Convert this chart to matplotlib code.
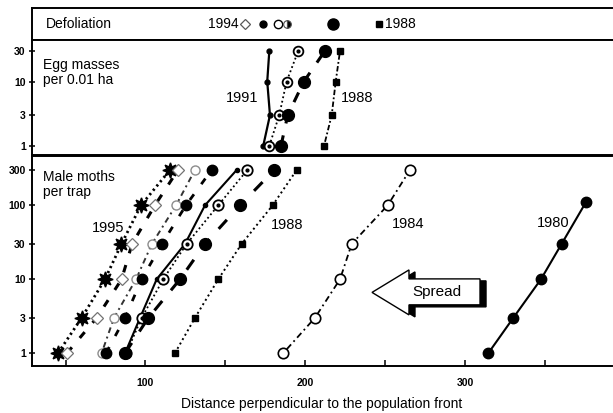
import matplotlib
matplotlib.use("Agg")
import matplotlib.pyplot as plt
from matplotlib import transforms
from matplotlib.patches import Polygon

plt.rcParams['font.family'] = ['Liberation Sans', 'DejaVu Sans']

# ---------------- data ----------------
moth_levels = [1, 3, 10, 30, 100, 300]
moth_1995 = [45.3, 60.1, 74.7, 85.0, 97.2, 115.3]
moth_1994 = [50.9, 69.5, 85.1, 91.6, 105.9, 120.3]
moth_1993 = [72.6, 80.3, 94.1, 104.0, 119.1, 130.9]
moth_1992 = [75.3, 87.2, 97.6, 110.3, 125.3, 141.3]
moth_1991 = [87.2, 96.6, 107.0, 124.7, 137.2, 157.0]
moth_1990 = [88.0, 97.6, 111.1, 125.7, 145.5, 163.6]
moth_1989 = [87.2, 101.8, 121.6, 137.2, 159.1, 180.5]
moth_1988 = [118.4, 130.9, 145.5, 160.1, 179.5, 194.5]
moth_1984 = [186.1, 205.9, 221.6, 228.9, 251.4, 265.3]
moth_1980_levels = [1, 3, 10, 30, 110]
moth_1980 = [314.3, 329.9, 347.2, 360.1, 375.3]

egg_levels = [1, 3, 10, 30]
egg_1991 = [173.6, 177.8, 176.1, 177.4]
egg_1990 = [177.4, 183.6, 188.2, 195.5]
egg_1989 = [184.7, 188.9, 199.0, 212.2]
egg_1988 = [211.6, 216.4, 218.9, 221.6]

defol_x = [162.0, 173.4, 182.8, 188.4, 217.2, 245.9]

moth_ticks = [1, 3, 10, 30, 100, 300]
egg_ticks = [1, 3, 10, 30]
x_ticks = [100, 200, 300]

# ---------------- figure ----------------
W, H = 613, 413
fig = plt.figure(figsize=(W / 100, H / 100), dpi=100)

def ax_px(left, top, right, bottom):
    return fig.add_axes([left / W, 1 - bottom / H, (right - left) / W, (bottom - top) / H])

XL = (29.06, 391.6)
ax_d = ax_px(32, 7.5, 612, 39.5)
ax_e = ax_px(32, 39.5, 612, 155)
ax_m = ax_px(32, 156, 612, 366)

for a in (ax_d, ax_e, ax_m):
    a.set_xlim(*XL)
    for s in a.spines.values():
        s.set_linewidth(1.4)
    a.spines['right'].set_visible(False)

# Defoliation panel
ax_d.set_ylim(0, 1)
ax_d.set_xticks([]); ax_d.set_yticks([])
ax_d.text(37.5, 0.5, "Defoliation", va='center', ha='left', fontsize=10)
ax_d.plot([defol_x[0]], [0.5], marker='D', ms=5.5, mfc='white', mec='0.35', mew=0.9, ls='none')
ax_d.plot([defol_x[1]], [0.5], marker='o', ms=5, color='black', ls='none')
ax_d.plot([defol_x[2]], [0.5], marker='o', ms=6, mfc='white', mec='black', mew=1.0, ls='none')
ax_d.plot([defol_x[3]], [0.5], marker='o', ms=5.5, fillstyle='right', mfc='black', mec='0.3', mew=0.8, ls='none')
ax_d.plot([defol_x[4]], [0.5], marker='o', ms=8, color='black', ls='none')
ax_d.plot([defol_x[5]], [0.5], marker='s', ms=4.5, color='black', ls='none')
ax_d.text(defol_x[0] - 3.5, 0.5, "1994", ha='right', va='center', fontsize=10)
ax_d.text(defol_x[5] + 3.5, 0.5, "1988", ha='left', va='center', fontsize=10)

# Egg masses panel
ax_e.set_yscale('log')
ax_e.set_ylim(0.72, 45)
ax_e.set_yticks(egg_ticks)
ax_e.set_yticklabels([str(t) for t in egg_ticks], fontsize=7.5, fontweight='bold')
ax_e.minorticks_off()
ax_e.set_xticks([])
ax_e.tick_params(axis='y', direction='inout', length=5, width=1.1, pad=2)
ax_e.plot(egg_1991, egg_levels, color='black', lw=1.6, marker='o', ms=3.5)
ax_e.plot(egg_1990, egg_levels, color='black', lw=1.3, ls=(0, (1, 1.5)),
          marker='o', ms=7, mfc='white', mec='black', mew=1.3)
ax_e.plot(egg_1990, egg_levels, color='black', ls='none', marker='o', ms=2)
ax_e.plot(egg_1989, egg_levels, color='black', lw=2.2, ls=(0, (3.5, 4)), marker='o', ms=8.5)
ax_e.plot(egg_1988, egg_levels, color='black', lw=1.3, ls=(0, (1, 1.3, 3, 1.3)), marker='s', ms=4.5)
ax_e.text(160.6, 5.5, "1991", ha='center', va='center', fontsize=10.5)
ax_e.text(232.0, 5.5, "1988", ha='center', va='center', fontsize=10.5)
ax_e.text(0.019, 0.84, "Egg masses\nper 0.01 ha", transform=ax_e.transAxes,
          ha='left', va='top', fontsize=10, linespacing=1.05)

# Male moths panel
ax_m.set_yscale('log')
ax_m.set_ylim(0.67, 464)
ax_m.set_yticks(moth_ticks)
ax_m.set_yticklabels([str(t) for t in moth_ticks], fontsize=7.5, fontweight='bold')
ax_m.minorticks_off()
ax_m.tick_params(axis='y', direction='inout', length=5, width=1.1, pad=2)
ax_m.set_xticks(x_ticks)
ax_m.set_xticklabels([str(t) for t in x_ticks], fontsize=7.5, fontweight='bold')
ax_m.set_xticks([50, 150, 250, 350], minor=True)
ax_m.tick_params(axis='x', which='both', direction='in', length=4, width=1.1, pad=9)
ax_m.set_xlabel("Distance perpendicular to the population front", fontsize=10, labelpad=6)

ax_m.plot(moth_1995, moth_levels, color='black', lw=2.0, ls=(0, (0.8, 1.2)),
          marker=(8, 1, 0), ms=11)
ax_m.plot(moth_1994, moth_levels, color='black', lw=2.2, ls=(0, (2.5, 4)),
          marker='D', ms=6, mfc='white', mec='0.45', mew=0.9)
ax_m.plot(moth_1993, moth_levels, color='0.2', lw=1.4, ls=(0, (1, 2, 3, 2)),
          marker='o', ms=6.5, mfc='white', mec='0.55', mew=1.0)
ax_m.plot(moth_1992, moth_levels, color='black', lw=2.0, ls=(0, (2.5, 4.5)),
          marker='o', ms=7.5)
ax_m.plot(moth_1991, moth_levels, color='black', lw=1.5, marker='o', ms=3)
ax_m.plot(moth_1990, moth_levels, color='black', lw=1.3, ls=(0, (1, 1.5)),
          marker='o', ms=7.5, mfc='white', mec='black', mew=1.3)
ax_m.plot(moth_1990, moth_levels, color='black', ls='none', marker='o', ms=2)
ax_m.plot(moth_1989, moth_levels, color='black', lw=2.2, ls=(0, (4, 4.5)),
          marker='o', ms=8.5)
ax_m.plot(moth_1988, moth_levels, color='black', lw=1.4, ls=(0, (1, 1.6)),
          marker='s', ms=4.5)
ax_m.plot(moth_1984, moth_levels, color='black', lw=1.3, ls=(0, (1, 2, 3.5, 2)),
          marker='o', ms=7.5, mfc='white', mec='black', mew=1.2)
ax_m.plot(moth_1980, moth_1980_levels, color='black', lw=1.5, marker='o', ms=7.5)

ax_m.text(76.6, 49, "1995", ha='center', va='center', fontsize=10.5)
ax_m.text(188.8, 54, "1988", ha='center', va='center', fontsize=10.5)
ax_m.text(264.0, 56, "1984", ha='center', va='center', fontsize=10.5)
ax_m.text(354.7, 57.5, "1980", ha='center', va='center', fontsize=10.5)
ax_m.text(0.019, 0.933, "Male moths\nper trap", transform=ax_m.transAxes,
          ha='left', va='top', fontsize=10, linespacing=1.05)

# Spread arrow (decoration)
arrow = [(241.6, 6.63), (264.7, 13.36), (264.7, 10.1), (309.1, 10.1),
         (309.1, 4.5), (264.7, 4.5), (264.7, 3.29)]
shadow_tr = transforms.offset_copy(ax_m.transData, fig=fig, x=6, y=-2, units='dots')
ax_m.add_patch(Polygon(arrow, closed=True, facecolor='black', edgecolor='black',
                       lw=1.0, transform=shadow_tr, zorder=4))
ax_m.add_patch(Polygon(arrow, closed=True, facecolor='white', edgecolor='black',
                       lw=1.0, zorder=5))
ax_m.text(282.2, 6.73, "Spread", ha='center', va='center', fontsize=11, zorder=6)

fig.savefig("out.png", dpi=100)
